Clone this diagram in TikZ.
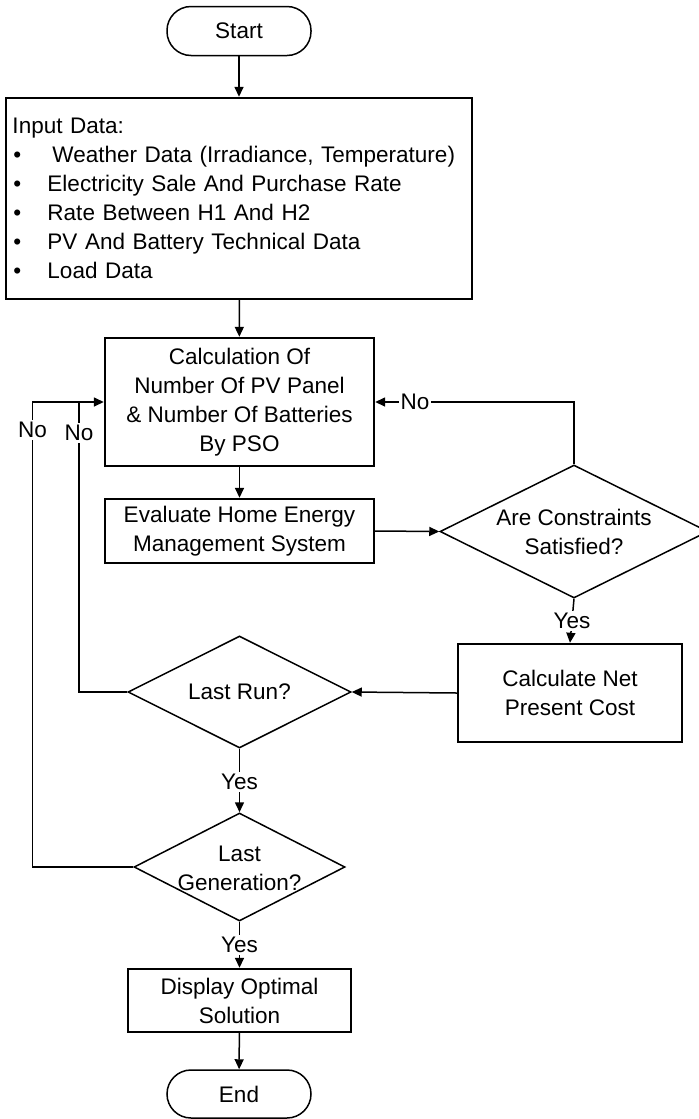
\documentclass[tikz,border=0pt]{standalone}
\usepackage{fontspec}
\setmainfont{Liberation Sans}
\usetikzlibrary{arrows.meta,shapes.geometric}
\newcommand\itemline[1]{\makebox[35bp][l]{\hspace{1bp}\textbullet}#1}
\tikzset{
  base/.style={font=\fontsize{22.6}{29}\selectfont, align=center, inner sep=0pt},
  procbox/.style={base, draw, line width=2.4bp, rectangle},
  termbox/.style={base, draw, line width=1.5bp, rectangle, rounded corners=24bp, minimum width=144bp},
  decbox/.style={draw, line width=1.5bp, diamond, inner sep=0pt},
  conn/.style={line width=1.5bp, -{Triangle[length=10bp,width=9bp]}},
  plainconn/.style={line width=1.5bp},
  lbl/.style={base, fill=white, inner sep=2bp}
}
\begin{document}
\begin{tikzpicture}[x=1bp,y=-1bp]
\useasboundingbox (0,0) rectangle (699,1119);

\node[termbox, minimum height=49bp] (start) at (239,31) {Start};

\node[procbox, text width=453bp, align=left, inner xsep=6.5bp, minimum height=201bp] (input) at (239,198.5)
{Input Data:\\
\itemline{\hspace{5bp}Weather Data (Irradiance, Temperature)}\\
\itemline{Electricity Sale And Purchase Rate}\\
\itemline{Rate Between H1 And H2}\\
\itemline{PV And Battery Technical Data}\\
\itemline{Load Data}};

\node[procbox, minimum width=269bp, minimum height=128bp] (calc) at (239.5,402)
{Calculation Of\\Number Of PV Panel\\\& Number Of Batteries\\By PSO};

\node[procbox, minimum width=269bp, minimum height=64bp] (eval) at (239.5,531)
{Evaluate Home Energy\\Management System};

\node[decbox, minimum width=268bp, minimum height=133bp,
  label={[base, name=constext]center:Are Constraints\\Satisfied?}] (cons) at (574,531.5) {};

\node[procbox, minimum width=224bp, minimum height=98bp] (netcost) at (570,693)
{Calculate Net\\Present Cost};

\node[decbox, minimum width=223bp, minimum height=112bp,
  label={[base, name=lastruntext]center:Last Run?}] (lastrun) at (239.5,692) {};

\node[decbox, minimum width=211bp, minimum height=108bp,
  label={[base, name=lastgentext, yshift=-1bp]center:Last\\Generation?}] (lastgen) at (239.5,867) {};

\node[procbox, minimum width=223bp, minimum height=63bp] (display) at (239.5,1000.5)
{Display Optimal\\Solution};

\node[termbox, minimum height=48bp] (end) at (239,1094) {End};

\coordinate (jo) at (32.5,402);
\coordinate (ji) at (79,402);

\draw[conn] (start) -- (input);
\draw[conn] (input) -- (calc);
\draw[conn] (calc) -- (eval);
\draw[conn] (eval.east) -- (cons.west);
\draw[conn] (cons.north) |- node[lbl, pos=0.9] {No} (calc.east);
\draw[conn] (cons.south) -- node[lbl, pos=0.5] {Yes} (netcost.north);
\draw[conn] (netcost.west) -- (lastrun.east);
\draw[conn] (lastrun.south) -- node[lbl, pos=0.52] {Yes} (lastgen.north);
\draw[conn] (lastgen.south) -- node[lbl, pos=0.5] {Yes} (display.north);
\draw[conn] (display) -- (end);
\draw[plainconn] (lastrun.west) -| node[lbl, pos=0.947] {No} (ji);
\draw[conn] (lastgen.west) -| node[lbl, pos=0.97] {No} (jo) -- (calc.west);
\end{tikzpicture}
\end{document}
